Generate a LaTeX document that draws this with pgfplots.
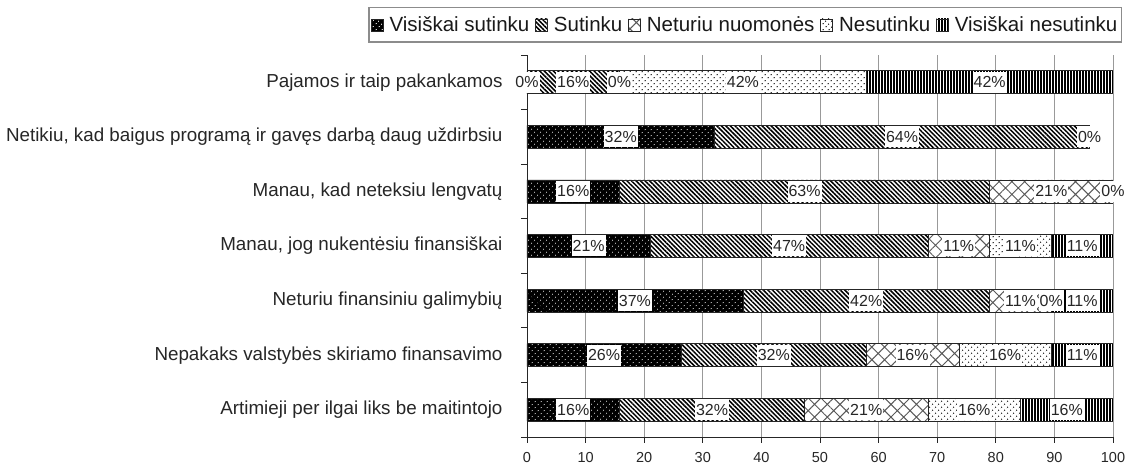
\documentclass[border=0pt]{standalone}
\usepackage{pgfplots}
\pgfplotsset{compat=1.18}
\usepackage{pgfplotstable}
\usepackage{fontspec}
\setmainfont{Liberation Sans}
\usetikzlibrary{patterns.meta}

\pgfplotstableread{
y vs s nn ne vn
6 0 15.79 0 42.11 42.11
5 32 64 0 0 0
4 15.79 63.16 21.05 0 0
3 21.05 47.37 10.53 10.53 10.53
2 36.84 42.11 10.53 0 10.53
1 26.32 31.58 15.79 15.79 10.53
0 15.79 31.58 21.05 15.79 15.79
}\bars

\pgfplotstableread{
x y t
0 6 0
7.89 6 16
15.79 6 0
36.84 6 42
78.95 6 42
16 5 32
64 5 64
96 5 0
7.89 4 16
47.37 4 63
89.47 4 21
100 4 0
10.53 3 21
44.74 3 47
73.68 3 11
84.21 3 11
94.74 3 11
18.42 2 37
57.89 2 42
84.21 2 11
89.47 2 0
94.74 2 11
13.16 1 26
42.11 1 32
65.79 1 16
81.58 1 16
94.74 1 11
7.89 0 16
31.58 0 32
57.89 0 21
76.32 0 16
92.11 0 16
}\labels

\pgfplotsset{
  myleg/.style={legend image code/.code={\draw[##1, line width=0.6pt] (0pt,-6pt) rectangle (12pt,6pt);}},
  sVS/.style={fill=black, draw=black!85, line width=0.6pt, myleg,
    postaction={pattern={Dots[angle=45, distance=4pt, radius=0.6pt]}, pattern color=white}},
  sS/.style={fill=white, draw=black!85, line width=0.6pt, myleg,
    postaction={pattern={Lines[angle=-45, distance=3.2pt, line width=1.5pt]}, pattern color=black}},
  sNN/.style={fill=white, draw=black!85, line width=0.6pt, myleg,
    postaction={pattern={Hatch[angle=45, distance=9pt, line width=1pt]}, pattern color=black!65}},
  sNE/.style={fill=white, draw=black!85, line width=0.6pt, myleg,
    postaction={pattern={Dots[angle=45, distance=4pt, radius=0.8pt]}, pattern color=black!85}},
  sVN/.style={fill=white, draw=black!85, line width=0.6pt, myleg,
    postaction={pattern={Lines[angle=90, distance=3pt, line width=1.4pt]}, pattern color=black}},
}

\begin{document}
\begin{tikzpicture}
\useasboundingbox (-527pt,-31pt) rectangle (601pt,437pt);
\begin{axis}[
  at={(0,0)}, anchor=south west,
  width=586pt, height=382pt, scale only axis,
  xbar stacked, bar width=23pt,
  xmin=0, xmax=100, ymin=-0.5, ymax=6.5,
  axis x line*=bottom, axis y line*=left,
  axis line style={black!85, line width=0.8pt},
  xtick={0,10,...,100},
  ytick={-0.5,0.5,...,6.5},
  y tick label as interval,
  yticklabels={Artimieji per ilgai liks be maitintojo,
    Nepakaks valstybės skiriamo finansavimo,
    Neturiu finansiniu galimybių,
    {Manau, jog nukentėsiu finansiškai},
    {Manau, kad neteksiu lengvatų},
    {Netikiu, kad baigus programą ir gavęs darbą daug uždirbsiu},
    Pajamos ir taip pakankamos},
  tick align=outside, major tick length=6pt,
  tick style={black!85, line width=0.8pt},
  xmajorgrids, grid style={gray!80, line width=0.8pt},
  /pgf/number format/assume math mode=true,
  xticklabel style={font=\fontsize{14.5}{17}\selectfont, text=black!85, yshift=-6pt},
  yticklabel style={font=\fontsize{18.8}{22}\selectfont, text=black!85, xshift=-15pt},
  legend columns=-1,
  legend style={at={(1,1)}, anchor=north east, xshift=9pt, yshift=48pt,
    draw=gray!90, line width=1.2pt, font=\fontsize{20.5}{24}\selectfont,
    text=black!90, inner xsep=2pt, inner ysep=7pt,
    /tikz/every odd column/.append style={column sep=4pt},
    /tikz/every even column/.append style={column sep=4pt}},
]
\addplot[sVS] table[x=vs, y=y] {\bars};
\addlegendentry{Visiškai sutinku}
\addplot[sS] table[x=s, y=y] {\bars};
\addlegendentry{Sutinku}
\addplot[sNN] table[x=nn, y=y] {\bars};
\addlegendentry{Neturiu nuomonės}
\addplot[sNE] table[x=ne, y=y] {\bars};
\addlegendentry{Nesutinku}
\addplot[sVN] table[x=vn, y=y] {\bars};
\addlegendentry{Visiškai nesutinku}
\end{axis}
\begin{axis}[
  at={(0,0)}, anchor=south west,
  width=586pt, height=382pt, scale only axis,
  xmin=0, xmax=100, ymin=-0.5, ymax=6.5,
  hide axis, clip=false,
]
\addplot[draw=none, mark=none, nodes near coords={\pgfplotspointmeta\%},
  point meta=explicit symbolic,
  every node near coord/.style={anchor=center, fill=white, inner xsep=1pt, inner ysep=0pt,
    minimum height=21pt, font=\fontsize{16}{18}\selectfont, text=black!85}]
  table[x=x, y=y, meta=t] {\labels};
\end{axis}
\end{tikzpicture}
\end{document}
